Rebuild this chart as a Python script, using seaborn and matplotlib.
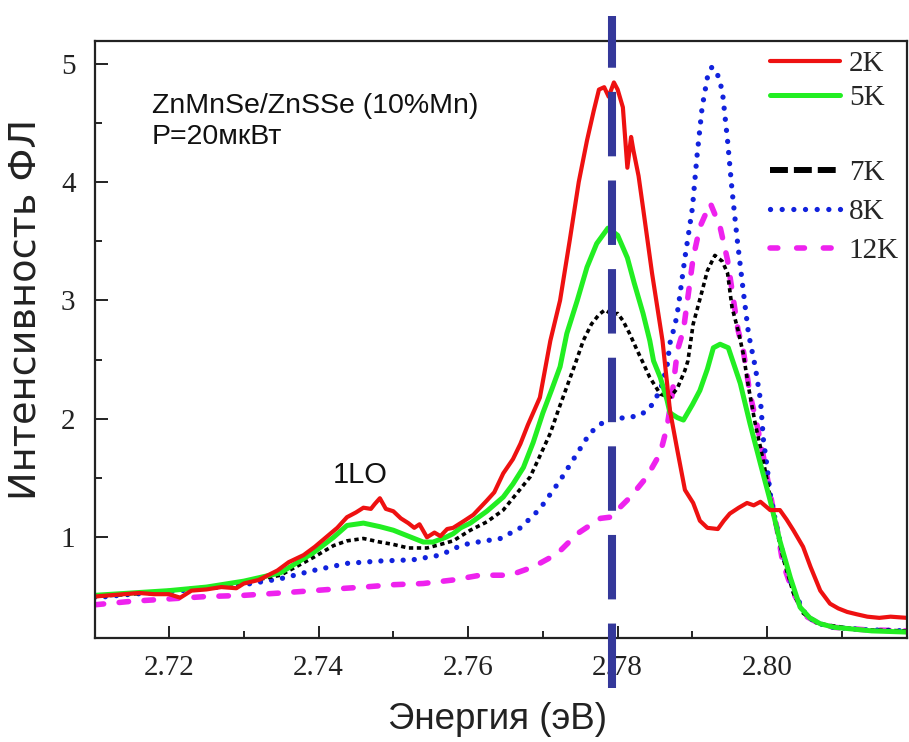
import matplotlib
matplotlib.use("Agg")
import matplotlib.pyplot as plt
from matplotlib.lines import Line2D
from matplotlib.ticker import MultipleLocator, FixedLocator
import seaborn as sns
import pandas as pd

# ---------------- data ----------------
x_2K = [2.7100, 2.7120, 2.7140, 2.7160, 2.7180, 2.7200, 2.7215, 2.7230, 2.7250, 2.7270,
        2.7290, 2.7300, 2.7320, 2.7345, 2.7360, 2.7380, 2.7395, 2.7410, 2.7425, 2.7438,
        2.7450, 2.7460, 2.7470, 2.7475, 2.7482, 2.7490, 2.7500, 2.7510, 2.7520, 2.7528,
        2.7535, 2.7545, 2.7555, 2.7563, 2.7572, 2.7580, 2.7595, 2.7607, 2.7625, 2.7635,
        2.7647, 2.7660, 2.7670, 2.7680, 2.7696, 2.7710, 2.7723, 2.7736, 2.7748, 2.7759,
        2.7768, 2.7775, 2.7782, 2.7788, 2.7795, 2.7800, 2.7807, 2.7813, 2.7818, 2.7821,
        2.7828, 2.7834, 2.7846, 2.7860, 2.7870, 2.7880, 2.7890, 2.7901, 2.7910, 2.7920,
        2.7934, 2.7942, 2.7950, 2.7962, 2.7973, 2.7982, 2.7991, 2.8004, 2.8017, 2.8026,
        2.8035, 2.8048, 2.8058, 2.8071, 2.8084, 2.8095, 2.8107, 2.8120, 2.8134, 2.8150,
        2.8165, 2.8187]
y_2K = [0.50, 0.51, 0.52, 0.53, 0.52, 0.52, 0.49, 0.55, 0.56, 0.58,
        0.57, 0.61, 0.64, 0.72, 0.79, 0.85, 0.92, 1.00, 1.08, 1.17,
        1.21, 1.25, 1.24, 1.28, 1.33, 1.24, 1.22, 1.16, 1.12, 1.08,
        1.11, 1.00, 1.04, 1.01, 1.07, 1.08, 1.14, 1.19, 1.31, 1.38,
        1.54, 1.66, 1.79, 1.95, 2.18, 2.66, 3.00, 3.51, 4.00, 4.35,
        4.60, 4.78, 4.80, 4.72, 4.84, 4.78, 4.63, 4.12, 4.38, 4.27,
        4.05, 3.78, 3.23, 2.66, 2.07, 1.73, 1.40, 1.29, 1.14, 1.08,
        1.07, 1.14, 1.20, 1.25, 1.29, 1.27, 1.30, 1.23, 1.23, 1.15,
        1.06, 0.92, 0.75, 0.55, 0.44, 0.40, 0.37, 0.35, 0.33, 0.32,
        0.33, 0.32]

x_5K = [2.7100, 2.7150, 2.7200, 2.7250, 2.7300, 2.7349, 2.7393, 2.7420, 2.7438, 2.7460,
        2.7482, 2.7500, 2.7520, 2.7540, 2.7553, 2.7570, 2.7580, 2.7590, 2.7603, 2.7625,
        2.7647, 2.7660, 2.7674, 2.7687, 2.7700, 2.7712, 2.7723, 2.7732, 2.7746, 2.7759,
        2.7772, 2.7787, 2.7800, 2.7813, 2.7822, 2.7834, 2.7843, 2.7848, 2.7857, 2.7866,
        2.7870, 2.7880, 2.7888, 2.7900, 2.7910, 2.7920, 2.7928, 2.7937, 2.7948, 2.7956,
        2.7964, 2.7977, 2.7991, 2.8004, 2.8017, 2.8031, 2.8044, 2.8057, 2.8071, 2.8090,
        2.8107, 2.8140, 2.8187]
y_5K = [0.51, 0.53, 0.55, 0.58, 0.63, 0.70, 0.87, 1.00, 1.10, 1.12,
        1.09, 1.06, 1.01, 0.96, 0.96, 1.00, 1.03, 1.08, 1.12, 1.22,
        1.34, 1.45, 1.59, 1.80, 2.05, 2.25, 2.44, 2.72, 3.00, 3.28,
        3.48, 3.61, 3.55, 3.36, 3.15, 2.89, 2.66, 2.49, 2.35, 2.16,
        2.05, 2.01, 1.99, 2.12, 2.24, 2.42, 2.60, 2.63, 2.60, 2.45,
        2.30, 1.96, 1.62, 1.31, 0.97, 0.66, 0.41, 0.32, 0.27, 0.24,
        0.23, 0.21, 0.20]

x_7K = [2.7100, 2.7150, 2.7200, 2.7250, 2.7300, 2.7349, 2.7393, 2.7420, 2.7438, 2.7460,
        2.7482, 2.7500, 2.7520, 2.7545, 2.7563, 2.7580, 2.7603, 2.7625, 2.7647, 2.7665,
        2.7683, 2.7697, 2.7710, 2.7721, 2.7732, 2.7743, 2.7754, 2.7765, 2.7775, 2.7783,
        2.7793, 2.7800, 2.7807, 2.7816, 2.7826, 2.7835, 2.7843, 2.7857, 2.7870, 2.7880,
        2.7890, 2.7894, 2.7901, 2.7913, 2.7920, 2.7930, 2.7940, 2.7947, 2.7953, 2.7961,
        2.7968, 2.7975, 2.7984, 2.7991, 2.8000, 2.8008, 2.8021, 2.8035, 2.8048, 2.8065,
        2.8080, 2.8124, 2.8187]
y_7K = [0.50, 0.52, 0.55, 0.58, 0.62, 0.68, 0.83, 0.93, 0.97, 0.99,
        0.96, 0.94, 0.91, 0.91, 0.94, 0.97, 1.06, 1.13, 1.23, 1.37,
        1.51, 1.70, 1.88, 2.08, 2.27, 2.46, 2.66, 2.80, 2.88, 2.92,
        2.88, 2.89, 2.83, 2.72, 2.58, 2.46, 2.35, 2.21, 2.18, 2.26,
        2.41, 2.49, 2.80, 3.08, 3.25, 3.38, 3.33, 3.23, 2.94, 2.75,
        2.55, 2.27, 1.96, 1.76, 1.48, 1.20, 0.83, 0.53, 0.36, 0.28,
        0.26, 0.22, 0.21]

x_8K = [2.7100, 2.7150, 2.7200, 2.7250, 2.7300, 2.7349, 2.7393, 2.7438, 2.7482, 2.7526,
        2.7563, 2.7590, 2.7603, 2.7643, 2.7670, 2.7696, 2.7723, 2.7746, 2.7763, 2.7786,
        2.7813, 2.7830, 2.7843, 2.7857, 2.7866, 2.7870, 2.7877, 2.7881, 2.7890, 2.7900,
        2.7906, 2.7913, 2.7920, 2.7926, 2.7933, 2.7940, 2.7947, 2.7953, 2.7960, 2.7968,
        2.7975, 2.7984, 2.7991, 2.7995, 2.8000, 2.8004, 2.8011, 2.8021, 2.8035, 2.8053,
        2.8070, 2.8088, 2.8130, 2.8187]
y_8K = [0.49, 0.52, 0.54, 0.57, 0.60, 0.65, 0.72, 0.78, 0.80, 0.81,
        0.85, 0.93, 0.95, 0.99, 1.08, 1.24, 1.48, 1.71, 1.88, 2.00,
        2.01, 2.03, 2.09, 2.24, 2.44, 2.64, 2.80, 2.94, 3.36, 3.78,
        4.21, 4.63, 4.88, 4.97, 4.92, 4.77, 4.35, 3.93, 3.51, 3.08,
        2.72, 2.44, 2.16, 1.82, 1.59, 1.37, 1.14, 0.86, 0.55, 0.33,
        0.27, 0.24, 0.22, 0.21]

x_12K = [2.7100, 2.7150, 2.7200, 2.7250, 2.7300, 2.7349, 2.7393, 2.7436, 2.7460, 2.7500,
         2.7540, 2.7580, 2.7616, 2.7656, 2.7687, 2.7719, 2.7746, 2.7777, 2.7790, 2.7817,
         2.7839, 2.7857, 2.7866, 2.7873, 2.7880, 2.7888, 2.7894, 2.7901, 2.7910, 2.7924,
         2.7937, 2.7947, 2.7955, 2.7961, 2.7968, 2.7977, 2.7987, 2.7995, 2.8004, 2.8013,
         2.8021, 2.8035, 2.8053, 2.8070, 2.8090, 2.8130, 2.8187]
y_12K = [0.43, 0.46, 0.48, 0.50, 0.51, 0.53, 0.55, 0.57, 0.58, 0.60,
         0.61, 0.64, 0.68, 0.68, 0.75, 0.86, 1.03, 1.16, 1.17, 1.34,
         1.51, 1.71, 1.93, 2.21, 2.58, 2.75, 3.03, 3.36, 3.62, 3.82,
         3.62, 3.34, 3.00, 2.75, 2.58, 2.21, 1.93, 1.68, 1.37, 1.08,
         0.78, 0.53, 0.33, 0.27, 0.24, 0.22, 0.21]

series_labels = ["2K", "5K", "7K", "8K", "12K"]
marker_energy = 2.7792           # vertical dashed guide line
x_ticks = [2.72, 2.74, 2.76, 2.78, 2.80]
x_tick_labels = ["2.72", "2.74", "2.76", "2.78", "2.80"]
y_ticks = [1, 2, 3, 4, 5]
x_label = "Энергия (эВ)"
y_label = "Интенсивность ФЛ"
sample_text = "ZnMnSe/ZnSSe (10%Mn)"
power_text = "P=20мкВт"
phonon_text = "1LO"

# ---------------- styling ----------------
sns.set_theme(style="ticks")
plt.rcParams["font.family"] = ["Liberation Sans", "DejaVu Sans"]
serif = ["Liberation Serif", "DejaVu Serif"]

fig = plt.figure(figsize=(9.09, 7.42), dpi=100)
ax = fig.add_axes([95 / 909, 1 - 638 / 742, 812 / 909, 597 / 742])

styles = {
    "2K": dict(color="#ee1111", lw=3.0, ls="-"),
    "5K": dict(color="#22ee22", lw=3.6, ls="-"),
    "7K": dict(color="black", lw=2.6, ls=(0, (1.2, 1.0))),
    "8K": dict(color="#1122dd", lw=3.8, ls=(0, (0.01, 2.1)), dash_capstyle="round"),
    "12K": dict(color="#ee22ee", lw=4.0, ls=(0, (1.7, 2.8)), dash_capstyle="round"),
}
data = {"2K": (x_2K, y_2K), "5K": (x_5K, y_5K), "7K": (x_7K, y_7K),
        "8K": (x_8K, y_8K), "12K": (x_12K, y_12K)}

draw_order = ["12K", "8K", "7K", "5K", "2K"]
for lab in draw_order:
    xs, ys = data[lab]
    df = pd.DataFrame({"E": xs, "I": ys})
    st = dict(styles[lab])
    sns.lineplot(data=df, x="E", y="I", ax=ax, color=st.pop("color"),
                 linewidth=st.pop("lw"), linestyle=st.pop("ls"),
                 sort=False, estimator=None, legend=False, **st)

# vertical dashed guide line, extending beyond the frame
ax.plot([marker_energy, marker_energy], [-0.27, 5.40], color="#34389a", lw=5.8,
        ls=(0, (8, 3)), clip_on=False, zorder=10, solid_capstyle="butt",
        dash_capstyle="butt")

ax.set_xlim(2.7101, 2.8187)
ax.set_ylim(0.15, 5.19)
ax.xaxis.set_major_locator(FixedLocator(x_ticks))
ax.set_xticklabels(x_tick_labels)
ax.xaxis.set_minor_locator(MultipleLocator(0.01))
ax.yaxis.set_major_locator(FixedLocator(y_ticks))
ax.yaxis.set_minor_locator(MultipleLocator(0.5))
ax.tick_params(which="both", direction="in", color="#222222", width=1.4)
ax.tick_params(which="major", length=9, labelsize=21)
ax.tick_params(axis="x", which="major", pad=12)
ax.tick_params(axis="y", which="major", pad=14)
ax.tick_params(which="minor", length=5)
for lbl in ax.get_xticklabels() + ax.get_yticklabels():
    lbl.set_family(serif)
    lbl.set_color("#222222")
for sp in ax.spines.values():
    sp.set_color("#222222")
    sp.set_linewidth(1.6)

ax.set_xlabel(x_label, fontsize=26.5, color="#222222", va="center")
ax.xaxis.set_label_coords(0.496, -0.137)
ax.set_ylabel(y_label, fontsize=27.5, color="#222222", va="center",
              family=["DejaVu Sans"])
ax.yaxis.set_label_coords(-0.086, 0.55)

ax.text(152 / 909, 1 - 113 / 742, sample_text, transform=fig.transFigure,
        fontsize=20.5, color="#111111", ha="left", va="baseline")
ax.text(152 / 909, 1 - 144 / 742, power_text, transform=fig.transFigure,
        fontsize=20.5, color="#111111", ha="left", va="baseline")
ax.text(2.7456, 1.46, phonon_text, fontsize=21, color="#111111",
        ha="center", va="baseline")

# legend (two groups, like the reference)
h = {
    "2K": Line2D([], [], color="#ee1111", lw=3.0),
    "5K": Line2D([], [], color="#22ee22", lw=3.6),
    "7K": Line2D([], [], color="black", lw=4.3, ls=(0, (3.0, 1.0))),
    "8K": Line2D([], [], color="#1122dd", lw=3.8, ls=(0, (0.01, 2.2)), dash_capstyle="round"),
    "12K": Line2D([], [], color="#ee22ee", lw=4.0, ls=(0, (1.4, 3.4)), dash_capstyle="round"),
}
leg_kw = dict(frameon=False, prop={"family": serif, "size": 21}, handlelength=2.4,
              handletextpad=0.3, borderpad=0, borderaxespad=0, loc="center left")
leg1 = ax.legend([h[k] for k in series_labels[:2]], series_labels[:2],
                 bbox_to_anchor=((770 - 95) / 812, (638 - 81) / 597),
                 labelspacing=0.27, **leg_kw)
ax.add_artist(leg1)
ax.legend([h[k] for k in series_labels[2:]], series_labels[2:],
          bbox_to_anchor=((770 - 95) / 812, (638 - 212) / 597),
          labelspacing=0.44, **leg_kw)

fig.savefig("out.png", dpi=100)
